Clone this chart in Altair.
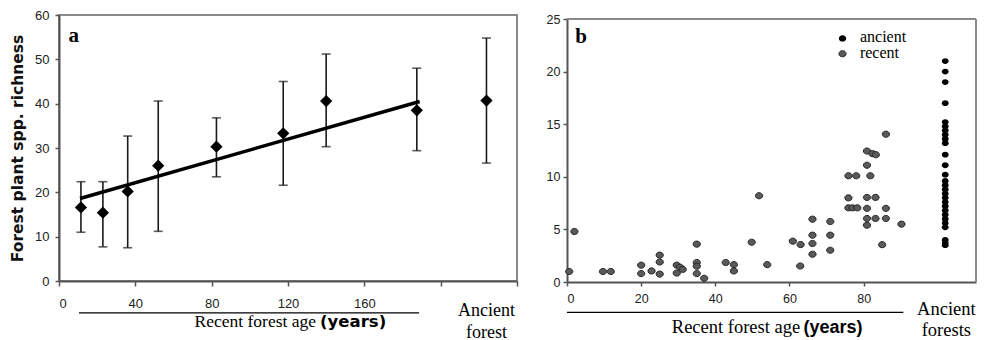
import altair as alt
import pandas as pd

# ---------------- Panel a: mean richness by recent forest age ----------------
age_a = [11.5, 23, 36, 52, 82.5, 117.5, 140, 187.5]
rich_a = [16.6, 15.4, 20.2, 26.0, 30.3, 33.3, 40.6, 38.5]
low_a = [11.0, 7.7, 7.5, 11.2, 23.5, 21.6, 30.3, 29.4]
high_a = [22.4, 22.4, 32.7, 40.6, 36.8, 45.0, 51.2, 48.0]
ancient_a_x = [224]
ancient_a_rich = [40.7]
ancient_a_low = [26.6]
ancient_a_high = [54.8]
fit_x = [11, 189]
fit_y = [18.6, 40.5]
ticks_a_x = list(range(0, 241, 20))
labels_a_x = [0, 40, 80, 120, 160]
ticks_a_y = [0, 10, 20, 30, 40, 50, 60]

# ---------------- Panel b: individual sites ----------------
recent_x = [0.6, 2.0, 9.7, 11.8, 20.0, 20.0, 22.8, 25.0, 25.0, 25.0,
            29.6, 29.6, 30.5, 31.2, 35.0, 35.0, 35.0, 35.0, 37.0, 42.8,
            45.0, 45.0, 49.8, 51.8, 54.0, 60.9, 63.0, 62.9, 66.2, 66.2,
            66.2, 66.2, 71.0, 71.0, 71.0, 75.9, 78.0, 75.9, 75.9, 77.0,
            78.3, 80.9, 82.4, 83.3, 80.9, 81.8, 80.9, 83.2, 80.9, 80.9,
            83.2, 80.9, 86.0, 86.0, 86.0, 85.0, 90.2]
recent_y = [1.0, 4.8, 1.0, 1.0, 1.6, 0.8, 1.05, 2.55, 1.9, 0.75,
            1.6, 0.85, 1.4, 1.2, 3.6, 1.85, 1.5, 0.8, 0.35, 1.85,
            1.65, 1.05, 3.78, 8.2, 1.65, 3.88, 3.56, 1.52, 5.97, 4.45,
            3.66, 2.64, 5.75, 4.45, 3.02, 10.1, 10.1, 8.0, 7.05, 7.05,
            7.05, 12.45, 12.2, 12.1, 11.1, 10.1, 8.04, 8.04, 7.0, 6.04,
            6.04, 5.4, 14.05, 7.0, 6.04, 3.55, 5.5]
ancient_b_x = 102
ancient_b_y = [21.0, 20.0, 19.0, 17.0, 15.2, 14.8, 14.4, 14.0, 13.6, 13.2,
               12.1, 11.1, 10.2, 9.6, 9.2, 8.8, 8.4, 8.0, 7.6, 7.2,
               6.8, 6.4, 6.0, 5.6, 5.2, 4.0, 3.7, 3.5]
ticks_b_x = [0, 20, 40, 60, 80]
ticks_b_y = [0, 5, 10, 15, 20, 25]

SERIF = "Liberation Serif"
SANS = "Liberation Sans"
ELLIPSE = "M-1.17,0 A1.17,1 0 1,0 1.17,0 A1.17,1 0 1,0 -1.17,0 Z"
FRAME = "#8a8a8a"

one = alt.Data(values=[{}])

# ---------------- build panel a ----------------
df_a = pd.DataFrame({
    "age": age_a + ancient_a_x,
    "rich": rich_a + ancient_a_rich,
    "low": low_a + ancient_a_low,
    "high": high_a + ancient_a_high,
})
df_fit = pd.DataFrame({"age": fit_x, "rich": fit_y})

label_list = ",".join(str(v) for v in labels_a_x)
axis_xa = alt.Axis(values=ticks_a_x, title=None,
                   labelExpr=f"indexof([{label_list}], datum.value) >= 0 ? datum.label : ''",
                   labelPadding=11, tickSize=5, labelFontSize=13)
axis_ya = alt.Axis(values=ticks_a_y, title="Forest plant spp. richness",
                   titleFont="DejaVu Sans", titleFontWeight="bold", titleFontSize=15.5,
                   titleColor="#111", titlePadding=9, labelPadding=6, tickSize=4,
                   labelFontSize=13)
sx_a = alt.Scale(domain=[0, 240], nice=False, zero=False)
sy_a = alt.Scale(domain=[0, 60], nice=False, zero=False)

Xa = lambda f="age:Q": alt.X(f, scale=sx_a, axis=axis_xa)
Ya = lambda f="rich:Q": alt.Y(f, scale=sy_a, axis=axis_ya)

base_a = alt.Chart(df_a)
err_a = base_a.mark_rule(color="#1a1a1a", strokeWidth=1.6).encode(
    x=Xa(), y=Ya("low:Q"), y2="high:Q")
caps_a = base_a.transform_fold(["low", "high"], as_=["k", "v"]).mark_tick(
    orient="horizontal", size=9, thickness=1.6, color="#1a1a1a").encode(
    x=Xa(), y=Ya("v:Q"))
pts_a = base_a.mark_point(shape="diamond", filled=True, size=150,
                          color="#000", opacity=1).encode(x=Xa(), y=Ya())
fit_a = alt.Chart(df_fit).mark_line(color="#000", strokeWidth=3.5).encode(
    x=Xa(), y=Ya())

lab_a = alt.Chart(one).mark_text(font=SERIF, fontWeight="bold", fontSize=21,
                                 align="left", baseline="alphabetic", color="#000").encode(
    x=alt.datum(5), y=alt.datum(54.0), text=alt.value("a"))
rule_a = alt.Chart(one).mark_rule(color="#000", strokeWidth=1.3).encode(
    x=alt.datum(10.5), x2=alt.datum(188.7), y=alt.datum(-7.2))
t1_a = alt.Chart(one).mark_text(font=SERIF, fontSize=17.5, align="right",
                                baseline="alphabetic", color="#000").encode(
    x=alt.datum(134.7), y=alt.datum(-10.4), text=alt.value("Recent forest age"))
t2_a = alt.Chart(one).mark_text(font="DejaVu Sans", fontWeight="bold", fontSize=16.5,
                                align="left", baseline="alphabetic", color="#000").encode(
    x=alt.datum(136.8), y=alt.datum(-10.4), text=alt.value("(years)"))
anc1_a = alt.Chart(one).mark_text(font=SERIF, fontSize=18, align="center",
                                  baseline="alphabetic", color="#000").encode(
    x=alt.datum(224), y=alt.datum(-7.9), text=alt.value("Ancient"))
anc2_a = alt.Chart(one).mark_text(font=SERIF, fontSize=18, align="center",
                                  baseline="alphabetic", color="#000").encode(
    x=alt.datum(224), y=alt.datum(-12.8), text=alt.value("forest"))

chart_a = alt.layer(err_a, caps_a, fit_a, pts_a, lab_a, rule_a, t1_a, t2_a,
                    anc1_a, anc2_a).properties(width=458, height=266)

# ---------------- build panel b ----------------
B_W, B_H, B_TOP = 409, 267, 4          # plot box sits a few px lower than panel a
XMAX_B = 110.3

df_rec = pd.DataFrame({"age": recent_x, "rich": recent_y})
df_anc = pd.DataFrame({"age": [ancient_b_x] * len(ancient_b_y), "rich": ancient_b_y})

axis_xb = alt.Axis(values=ticks_b_x, title=None, labelPadding=6, tickSize=4,
                   labelFontSize=12.5)
axis_yb = alt.Axis(values=ticks_b_y, title=None, labelPadding=3, tickSize=4,
                   labelFontSize=12.5)
sx_b = alt.Scale(domain=[0, XMAX_B], nice=False, zero=False)
sy_b = alt.Scale(domain=[0, 25], nice=False, zero=False, range=[B_H, B_TOP])
Xb = lambda f="age:Q": alt.X(f, scale=sx_b, axis=axis_xb)
Yb = lambda f="rich:Q": alt.Y(f, scale=sy_b, axis=axis_yb)

rec_b = alt.Chart(df_rec).mark_point(shape=ELLIPSE, filled=True, size=38,
                                     fill="#5a5a5a", stroke="#262626",
                                     strokeWidth=1, opacity=1).encode(x=Xb(), y=Yb())
anc_b = alt.Chart(df_anc).mark_point(shape=ELLIPSE, filled=True, size=34,
                                     fill="#000", opacity=1).encode(x=Xb(), y=Yb())

frame_top = alt.Chart(one).mark_rule(color=FRAME, strokeWidth=2).encode(
    x=alt.datum(0), x2=alt.datum(XMAX_B), y=alt.datum(25))
frame_right = alt.Chart(one).mark_rule(color=FRAME, strokeWidth=2).encode(
    x=alt.datum(XMAX_B), y=alt.datum(0), y2=alt.datum(25))

lab_b = alt.Chart(one).mark_text(font=SERIF, fontWeight="bold", fontSize=21,
                                 align="left", baseline="alphabetic", color="#000").encode(
    x=alt.datum(2.2), y=alt.datum(22.7), text=alt.value("b"))
leg_dot1 = alt.Chart(one).mark_point(shape=ELLIPSE, filled=True, size=40,
                                     fill="#000", opacity=1).encode(
    x=alt.datum(74.3), y=alt.datum(23.15))
leg_dot2 = alt.Chart(one).mark_point(shape=ELLIPSE, filled=True, size=38,
                                     fill="#5a5a5a", stroke="#262626", strokeWidth=1,
                                     opacity=1).encode(
    x=alt.datum(74.3), y=alt.datum(21.7))
leg_t1 = alt.Chart(one).mark_text(font=SERIF, fontSize=16, align="left",
                                  baseline="middle", color="#000").encode(
    x=alt.datum(79), y=alt.datum(23.3), text=alt.value("ancient"))
leg_t2 = alt.Chart(one).mark_text(font=SERIF, fontSize=16, align="left",
                                  baseline="middle", color="#000").encode(
    x=alt.datum(79), y=alt.datum(21.75), text=alt.value("recent"))
rule_b = alt.Chart(one).mark_rule(color="#000", strokeWidth=1.3).encode(
    x=alt.datum(0), x2=alt.datum(90.7), y=alt.datum(-2.88))
t1_b = alt.Chart(one).mark_text(font=SERIF, fontSize=18.5, align="right",
                                baseline="alphabetic", color="#000").encode(
    x=alt.datum(62.9), y=alt.datum(-4.85), text=alt.value("Recent forest age"))
t2_b = alt.Chart(one).mark_text(font=SANS, fontWeight="bold", fontSize=18,
                                align="left", baseline="alphabetic", color="#000").encode(
    x=alt.datum(63.8), y=alt.datum(-4.85), text=alt.value("(years)"))
anc1_b = alt.Chart(one).mark_text(font=SERIF, fontSize=18.5, align="center",
                                  baseline="alphabetic", color="#000").encode(
    x=alt.datum(102.3), y=alt.datum(-3.1), text=alt.value("Ancient"))
anc2_b = alt.Chart(one).mark_text(font=SERIF, fontSize=18.5, align="center",
                                  baseline="alphabetic", color="#000").encode(
    x=alt.datum(102.3), y=alt.datum(-5.1), text=alt.value("forests"))

chart_b = alt.layer(frame_top, frame_right, rec_b, anc_b, lab_b, leg_dot1, leg_dot2,
                    leg_t1, leg_t2, rule_b, t1_b, t2_b, anc1_b, anc2_b).properties(
    width=B_W, height=B_H, view=alt.ViewBackground(stroke="transparent"))

chart = alt.hconcat(chart_a, chart_b, spacing=26).configure(
    padding={"left": 1, "top": 0, "right": 0, "bottom": 0},
    background="white",
).configure_view(
    stroke=FRAME, strokeWidth=2
).configure_axis(
    grid=False, labelFont=SANS, labelColor="#222", tickColor="#555",
    domainColor="#555", domainWidth=2, tickWidth=1.5
)

chart.save("out.html", embed_options={"renderer": "svg", "actions": False})
